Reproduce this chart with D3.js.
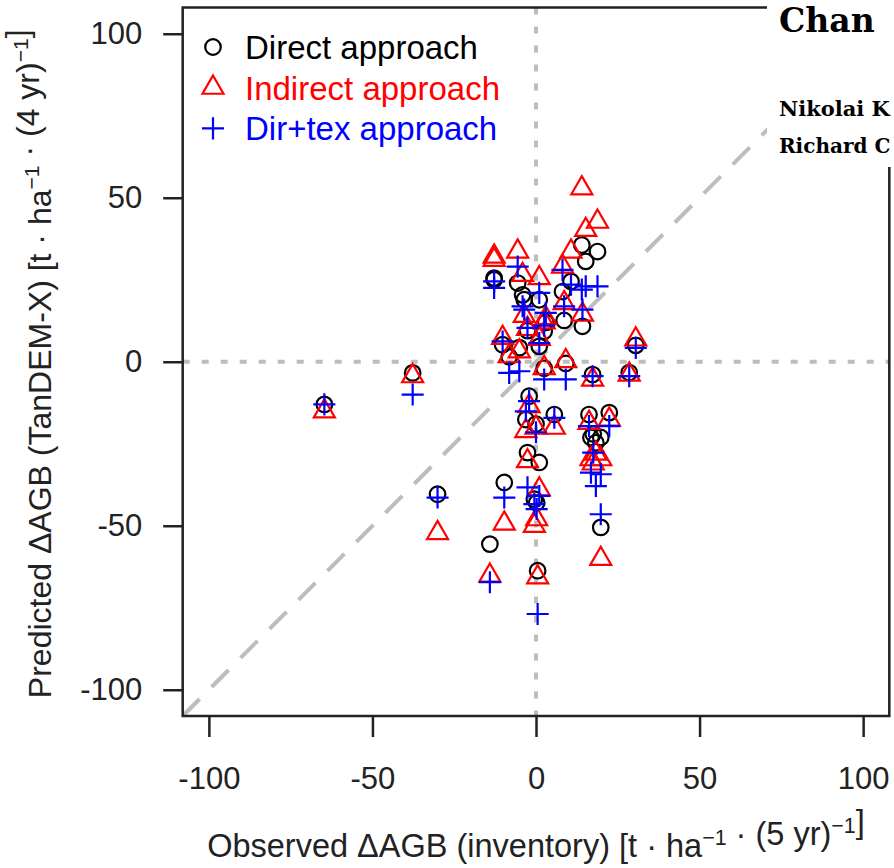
<!DOCTYPE html>
<html lang="en">
<head>
  <meta charset="UTF-8">
  <title>Observed vs predicted AGB change</title>
  <style>
    body {
      margin: 0;
      background: #fff;
    }
    svg {
      display: block;
      font-family: "Liberation Sans", Arial, sans-serif;
    }
    .tick text {
      font-size: 31px;
      fill: #222;
    }
    .tick line {
      stroke: #222;
      stroke-width: 2.5;
    }
    .header {
      font-family: "DejaVu Serif", serif;
      font-weight: bold;
      fill: #000;
    }
  </style>
</head>
<body>
  <svg id="chart" width="894" height="868"></svg>

  <script src="https://d3js.org/d3.v7.min.js"></script>
  <script>
    // observed change per plot (inventory) and the three predictions for the same plots
    const observed = [-64.7, -37.7, -30.1, -14.1, -9.7, 0.5, 19.8, 30.5, 28.5, 17.3,
                      9.1, 2.5, -8.2, -5.1, -10.2, -12.8, -12.8, -5.6, -4.1, 1.0,
                      8.1, 10.7, 14.0, 15.2, 18.8, -3.6, 3.0, 8.6, 14.2, -2.6,
                      2.5, 1.0, -2.1, -3.1, 0.0, 5.6, 16.2, 22.4, 16.8, 19.8,
                      18.3, -2.6, 1.0, -0.5, 0.2, 17.5];
    const direct   = [-13.0, -3.4, -40.4, -55.6, -36.8, -63.7, -50.5, 5.0, -3.3, -3.9,
                      -0.5, -2.0, 1.5, 4.3, 5.2, 25.5, 25.0, 24.0, 20.4, 18.9,
                      21.4, 24.5, 35.6, 30.6, 33.6, 18.9, 12.0, 12.6, 10.8, 9.5,
                      9.3, 4.7, -10.5, -17.6, -19.0, -16.1, -16.1, -15.5, -23.1, -23.1,
                      -24.7, -27.7, -30.7, -41.9, -43.0, -22.0];
    const indirect = [-15.1, -4.4, -52.2, -65.2, -49.3, -65.7, -60.1, 6.8, -3.9, -5.4,
                      0.2, -1.9, 1.7, 3.2, 7.3, 32.1, 31.1, 33.6, 26.5, 25.5,
                      29.0, 33.6, 52.9, 40.2, 42.7, 14.0, 13.3, 17.9, 14.4, 10.0,
                      12.0, 7.0, -13.5, -21.1, -20.1, -20.1, -18.6, -17.6, -29.7, -29.7,
                      -28.0, -30.3, -38.9, -50.0, -48.0, -31.0];
    const dirtex   = [-13.0, -10.0, -41.4, -67.2, -41.4, -76.9, -46.5, 4.2, -4.4, -4.4,
                      -5.4, -5.4, -3.4, -2.9, 6.2, 24.5, 22.5, 29.0, 16.9, 21.0,
                      28.0, 23.5, 22.0, 23.0, 23.0, 15.9, 14.9, 16.9, 15.9, 10.3,
                      11.0, 5.7, -12.0, -15.1, -21.5, -17.1, -19.6, -19.6, -33.8, -34.3,
                      -37.9, -38.3, -40.9, -43.4, -44.9, -27.7];

    const tickValues = [-100, -50, 0, 50, 100];
    const legendLabels = ["Direct approach", "Indirect approach", "Dir+tex approach"];
    const seriesColors = ["#000000", "#ff0000", "#0000ff"];
    const seriesShapes = ["circle", "triangle", "plus"];

    const svg = d3.select("#chart");
    const plotL = 182.7, plotR = 889.3, plotT = 7.5, plotB = 716;

    const x = d3.scaleLinear().domain([-108, 108]).range([plotL, plotR]);
    const y = d3.scaleLinear().domain([-108, 108]).range([plotB, plotT]);

    const R = 7.8;
    function drawSymbol(g, shape, color) {
      if (shape === "circle") {
        g.append("circle").attr("r", R)
          .attr("fill", "none").attr("stroke", color).attr("stroke-width", 2.2);
      } else if (shape === "triangle") {
        g.append("path")
          .attr("d", `M0,${-1.555 * R}L${1.347 * R},${0.778 * R}L${-1.347 * R},${0.778 * R}Z`)
          .attr("fill", "none").attr("stroke", color).attr("stroke-width", 2.2);
      } else {
        const a = 1.414 * R;
        g.append("path")
          .attr("d", `M${-a},0H${a}M0,${-a}V${a}`)
          .attr("fill", "none").attr("stroke", color).attr("stroke-width", 2.2);
      }
    }

    // reference lines
    svg.append("defs").append("clipPath").attr("id", "plot-clip")
      .append("rect").attr("x", plotL).attr("y", plotT)
      .attr("width", plotR - plotL).attr("height", plotB - plotT);

    const refs = svg.append("g").attr("clip-path", "url(#plot-clip)");
    refs.append("line")
      .attr("x1", x(-108)).attr("y1", y(-108))
      .attr("x2", x(108)).attr("y2", y(108))
      .attr("stroke", "#bdbdbd").attr("stroke-width", 4)
      .attr("stroke-dasharray", "24 17");
    refs.append("line")
      .attr("x1", plotL).attr("x2", plotR)
      .attr("y1", y(0)).attr("y2", y(0))
      .attr("stroke", "#bdbdbd").attr("stroke-width", 4)
      .attr("stroke-dasharray", "7 12");
    refs.append("line")
      .attr("x1", x(0)).attr("x2", x(0))
      .attr("y1", plotT).attr("y2", plotB)
      .attr("stroke", "#bdbdbd").attr("stroke-width", 4)
      .attr("stroke-dasharray", "7 12");

    // points
    [direct, indirect, dirtex].forEach((vals, s) => {
      const g = svg.append("g");
      g.selectAll("g")
        .data(vals)
        .enter()
        .append("g")
        .attr("transform", (d, i) => `translate(${x(observed[i])},${y(d)})`)
        .each(function () { drawSymbol(d3.select(this), seriesShapes[s], seriesColors[s]); });
    });

    // axes (plain hyphen for negatives, as in the figure)
    const fmt = d => String(d);
    const xAxis = svg.append("g")
      .attr("transform", `translate(0,${plotB})`)
      .call(d3.axisBottom(x).tickValues(tickValues).tickFormat(fmt).tickSize(21).tickPadding(30));
    const yAxis = svg.append("g")
      .attr("transform", `translate(${plotL},0)`)
      .call(d3.axisLeft(y).tickValues(tickValues).tickFormat(fmt).tickSize(19.5).tickPadding(21));
    xAxis.select(".domain").remove();
    yAxis.select(".domain").remove();
    xAxis.attr("font-family", null).attr("font-size", null);
    yAxis.attr("font-family", null).attr("font-size", null);

    svg.append("rect")
      .attr("x", plotL).attr("y", plotT)
      .attr("width", plotR - plotL).attr("height", plotB - plotT)
      .attr("fill", "none").attr("stroke", "#222").attr("stroke-width", 2.5);

    // legend
    legendLabels.forEach((label, i) => {
      const ly = 47 + i * 40.7;
      const g = svg.append("g").attr("transform", `translate(213,${ly})`);
      drawSymbol(g, seriesShapes[i], seriesColors[i]);
      svg.append("text")
        .attr("x", 245).attr("y", ly).attr("dy", "0.36em")
        .attr("font-size", 33).attr("fill", seriesColors[i])
        .text(label);
    });

    // axis titles
    function titleWithSup(t, parts) {
      parts.forEach(p => {
        if (p.sup) {
          t.append("tspan").attr("font-size", "0.66em").attr("dy", "-0.55em").text(p.sup);
          t.append("tspan").attr("dy", "0.363em").text("");
        } else {
          t.append("tspan").text(p.txt);
        }
      });
    }

    const xt = svg.append("text")
      .attr("x", (plotL + plotR) / 2).attr("y", 857)
      .attr("text-anchor", "middle").attr("font-size", 32.5).attr("fill", "#222");
    titleWithSup(xt, [{ txt: "Observed \u0394AGB (inventory) [t \u00b7 ha" }, { sup: "\u22121" },
                      { txt: " \u00b7 (5 yr)" }, { sup: "\u22121" }, { txt: "]" }]);

    const yt = svg.append("text")
      .attr("transform", `translate(51,${(plotT + plotB) / 2 + 2}) rotate(-90)`)
      .attr("text-anchor", "middle").attr("font-size", 32).attr("fill", "#222");
    titleWithSup(yt, [{ txt: "Predicted \u0394AGB (TanDEM-X) [t \u00b7 ha" }, { sup: "\u22121" },
                      { txt: " \u00b7 (4 yr)" }, { sup: "\u22121" }, { txt: "]" }]);

    // piece of the page header that overlaps the figure
    svg.append("rect")
      .attr("x", 767).attr("y", 0).attr("width", 127).attr("height", 167)
      .attr("fill", "#fff");
    const header = [
      { text: "Chan", y: 32, size: 33 },
      { text: "Nikolai K", y: 116, size: 21 },
      { text: "Richard C", y: 153, size: 20 }
    ];
    header.forEach(h => {
      svg.append("text").attr("class", "header")
        .attr("x", 779).attr("y", h.y)
        .attr("font-size", h.size)
        .text(h.text);
    });
  </script>
</body>
</html>
